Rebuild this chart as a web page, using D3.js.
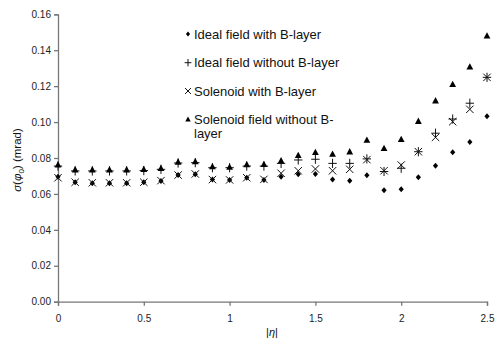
<!DOCTYPE html>
<html><head><meta charset="utf-8">
<script src="https://d3js.org/d3.v7.min.js"></script>
<style>body{margin:0;background:#fff}svg{display:block}text{font-family:"Liberation Sans",Arial,sans-serif}</style>
</head><body><svg id="c" width="497" height="349"></svg>
<script>
const eta = [0,0.1,0.2,0.3,0.4,0.5,0.6,0.7,0.8,0.9,1.0,1.1,1.2,1.3,1.4,1.5,1.6,1.7,1.8,1.9,2.0,2.1,2.2,2.3,2.4,2.5];
const idealWithB = [0.0695,0.0665,0.066,0.066,0.066,0.0665,0.0672,0.0705,0.071,0.068,0.0678,0.069,0.0678,0.0696,0.0709,0.0711,0.0681,0.0674,0.0704,0.062,0.0626,0.0693,0.0757,0.0832,0.0889,0.1032];
const idealNoB = [0.0755,0.0728,0.0728,0.0728,0.0728,0.073,0.0737,0.0772,0.0774,0.0746,0.0746,0.0755,0.0755,0.077,0.0789,0.0793,0.077,0.077,0.0795,0.0725,0.0743,0.0835,0.0938,0.1017,0.1105,0.1249];
const solWithB = [0.069,0.0665,0.0662,0.0662,0.0662,0.0665,0.0674,0.0705,0.0711,0.068,0.0678,0.069,0.0681,0.0715,0.0729,0.0739,0.0729,0.0737,0.0791,0.0729,0.0761,0.0835,0.0915,0.1002,0.1071,0.1249];
const solNoB = [0.0762,0.0735,0.0735,0.0735,0.0735,0.0737,0.0742,0.0778,0.078,0.0752,0.075,0.0763,0.0765,0.0785,0.0815,0.0832,0.0822,0.0835,0.090,0.0854,0.0904,0.1005,0.1119,0.121,0.1308,0.148];
const seriesNames = ["Ideal field with B-layer","Ideal field without B-layer","Solenoid with B-layer","Solenoid field without B-layer"];
const xTicks = [0,0.5,1,1.5,2,2.5];
const yTicks = [0,0.02,0.04,0.06,0.08,0.10,0.12,0.14,0.16];

const svg = d3.select("#c");
const x = d3.scaleLinear().domain([0,2.5]).range([58,487]);
const y = d3.scaleLinear().domain([0,0.16]).range([301.7,14.3]);
const axisCol = "#777";

const gx = svg.append("g").attr("transform",`translate(0,${y(0)})`)
  .call(d3.axisBottom(x).tickValues(xTicks).tickFormat(d3.format("")).tickSize(4).tickPadding(9));
const gy = svg.append("g").attr("transform",`translate(${x(0)},0)`)
  .call(d3.axisLeft(y).tickValues(yTicks).tickFormat(d3.format(".2f")).tickSize(4).tickPadding(3));
[gx,gy].forEach(g=>{
  g.selectAll("path").attr("stroke",axisCol).attr("stroke-width",1.3);
  g.selectAll("line").attr("stroke",axisCol).attr("stroke-width",1.3);
  g.selectAll("text").attr("font-size",10).attr("fill","#222").attr("font-family","Liberation Sans, Arial, sans-serif");
});

const mk = (scale)=>({
  diamond: (g,cx,cy)=>g.append("path").attr("d",`M${cx},${cy-3*scale}L${cx+2.6*scale},${cy}L${cx},${cy+3*scale}L${cx-2.6*scale},${cy}Z`).attr("fill","#000"),
  plus: (g,cx,cy)=>g.append("path").attr("d",`M${cx-4.2*scale},${cy}H${cx+4.2*scale}M${cx},${cy-4.6*scale}V${cy+4.6*scale}`).attr("stroke","#111").attr("stroke-width",1).attr("fill","none"),
  cross: (g,cx,cy)=>g.append("path").attr("d",`M${cx-3.7*scale},${cy-3.7*scale}L${cx+3.7*scale},${cy+3.7*scale}M${cx+3.7*scale},${cy-3.7*scale}L${cx-3.7*scale},${cy+3.7*scale}`).attr("stroke","#111").attr("stroke-width",1).attr("fill","none"),
  tri: (g,cx,cy)=>g.append("path").attr("d",`M${cx},${cy-3.6*scale}L${cx+3.4*scale},${cy+2.7*scale}L${cx-3.4*scale},${cy+2.7*scale}Z`).attr("fill","#000")
});
const sym = mk(1), symL = mk(0.8);
const series = [
  {vals:idealWithB, s:"diamond"},
  {vals:idealNoB, s:"plus"},
  {vals:solWithB, s:"cross"},
  {vals:solNoB, s:"tri"}
];
const pg = svg.append("g");
series.forEach(se=>{
  se.vals.forEach((v,i)=>sym[se.s](pg,x(eta[i]),y(v)));
});

// legend
const lg = svg.append("g");
const ly = [34,62.7,91,119.3];
series.forEach((se,i)=>{
  symL[se.s](lg,188,ly[i]);
  const t = lg.append("text").attr("x",194).attr("y",ly[i]+4.5).attr("font-size",13).attr("fill","#111");
  if(i===3){
    t.text("Solenoid field without B-");
    lg.append("text").attr("x",194).attr("y",ly[i]+19).attr("font-size",13).attr("fill","#111").text("layer");
  } else t.text(seriesNames[i]);
});

// axis titles
const xl = svg.append("text").attr("x",272).attr("y",336).attr("text-anchor","middle").attr("font-size",11).attr("fill","#111");
xl.append("tspan").text("|");
xl.append("tspan").attr("font-style","italic").text("η");
xl.append("tspan").text("|");

const yl = svg.append("text").attr("transform","translate(21,160) rotate(-90)").attr("text-anchor","middle").attr("font-size",11.5).attr("fill","#111");
yl.append("tspan").attr("font-style","italic").text("σ");
yl.append("tspan").text("(");
yl.append("tspan").attr("font-style","italic").text("φ");
yl.append("tspan").attr("font-size",8).attr("dy",3).text("0");
yl.append("tspan").attr("dy",-3).text(") (mrad)");
</script></body></html>
